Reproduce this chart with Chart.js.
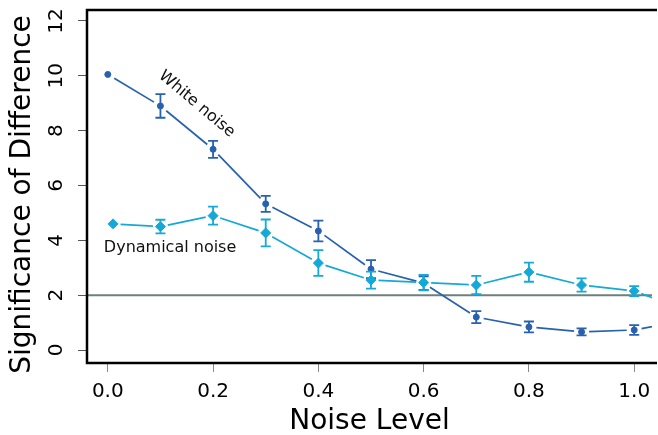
<!DOCTYPE html>
<html>
<head>
<meta charset="utf-8">
<script src="https://cdn.jsdelivr.net/npm/chart.js@4/dist/chart.umd.min.js"></script>
<style>
  html, body { margin: 0; padding: 0; background: #fff; }
  #wrap { width: 658px; height: 435px; position: relative; }
</style>
</head>
<body>
<div id="wrap"><canvas id="noiseChart"></canvas></div>
<script>
// values
const noiseLevels = [0, 0.1, 0.2, 0.3, 0.4, 0.5, 0.6, 0.7, 0.8, 0.9, 1.0, 1.1];
const dynamicalLevels = [0.01, 0.1, 0.2, 0.3, 0.4, 0.5, 0.6, 0.7, 0.8, 0.9, 1.0, 1.1];
const whiteNoise = [10.05, 8.9, 7.32, 5.33, 4.34, 2.95, 2.44, 1.2, 0.84, 0.66, 0.73, 1.1];
const whiteNoiseErr = [0, 0.43, 0.31, 0.29, 0.38, 0.33, 0.25, 0.22, 0.2, 0.13, 0.18, 0.2];
const dynamicalNoise = [4.6, 4.5, 4.9, 4.27, 3.17, 2.55, 2.46, 2.37, 2.84, 2.37, 2.15, 1.45];
const dynamicalNoiseErr = [0, 0.25, 0.33, 0.49, 0.47, 0.31, 0.28, 0.33, 0.35, 0.24, 0.18, 0.2];
const xTicks = [0, 0.2, 0.4, 0.6, 0.8, 1.0];
const yTicks = [0, 2, 4, 6, 8, 10, 12];
const thresholdLevel = 2;

const darkBlue = '#2861ad';
const cyan = '#14a9d6';
const fontFamily = "'DejaVu Sans', sans-serif";
const yTitle = 'Significance of Difference';

// text labels placed in data coordinates
const seriesLabels = [
    { text: 'White noise', x: 0.169, y: 8.97, angle: 40, align: 'center' },
    { text: 'Dynamical noise', x: -0.0075, y: 3.72, angle: 0, align: 'left' }
];

function toPoints(xs, ys) {
    return xs.map((x, i) => ({ x: x, y: ys[i] }));
}

// R style "b" lines: segments stop short of each marker
const gapLinePlugin = {
    id: 'gapLines',
    beforeDatasetDraw(chart, args) {
        const ds = chart.data.datasets[args.index];
        const pts = args.meta.data;
        const gap = 7.5;
        const area = chart.chartArea;
        const ctx = chart.ctx;
        ctx.save();
        ctx.beginPath();
        ctx.rect(area.left, area.top, area.right - area.left, area.bottom - area.top);
        ctx.clip();
        ctx.strokeStyle = ds.borderColor;
        ctx.lineWidth = 1.7;
        ctx.beginPath();
        for (let i = 0; i < pts.length - 1; i++) {
            const a = pts[i], b = pts[i + 1];
            const dx = b.x - a.x, dy = b.y - a.y;
            const len = Math.sqrt(dx * dx + dy * dy);
            if (len <= gap * 2) continue;
            const ux = dx / len, uy = dy / len;
            ctx.moveTo(a.x + ux * gap, a.y + uy * gap);
            ctx.lineTo(b.x - ux * gap, b.y - uy * gap);
        }
        ctx.stroke();
        ctx.restore();
    },
    afterDatasetDraw(chart, args) {
        const ds = chart.data.datasets[args.index];
        if (!ds.errors) return;
        const yScale = chart.scales.y;
        const area = chart.chartArea;
        const ctx = chart.ctx;
        ctx.save();
        ctx.beginPath();
        ctx.rect(area.left, area.top, area.right - area.left, area.bottom - area.top);
        ctx.clip();
        ctx.strokeStyle = ds.borderColor;
        ctx.lineWidth = 1.8;
        ctx.beginPath();
        args.meta.data.forEach((pt, i) => {
            const e = ds.errors[i];
            if (!e) return;
            const v = ds.data[i].y;
            const top = yScale.getPixelForValue(v + e);
            const bot = yScale.getPixelForValue(v - e);
            ctx.moveTo(pt.x, top); ctx.lineTo(pt.x, bot);
            ctx.moveTo(pt.x - 5, top); ctx.lineTo(pt.x + 5, top);
            ctx.moveTo(pt.x - 5, bot); ctx.lineTo(pt.x + 5, bot);
        });
        ctx.stroke();
        ctx.restore();
    }
};

// threshold line, frame, y title and in-plot labels
const decorPlugin = {
    id: 'decor',
    beforeDatasetsDraw(chart) {
        const ctx = chart.ctx;
        const area = chart.chartArea;
        const y = chart.scales.y.getPixelForValue(thresholdLevel);
        ctx.save();
        ctx.strokeStyle = '#6f7f7c';
        ctx.lineWidth = 2;
        ctx.beginPath();
        ctx.moveTo(area.left, y);
        ctx.lineTo(area.right, y);
        ctx.stroke();
        ctx.restore();
    },
    afterDatasetsDraw(chart) {
        const ctx = chart.ctx;
        const area = chart.chartArea;
        const xs = chart.scales.x, ys = chart.scales.y;
        ctx.save();
        ctx.fillStyle = '#111';
        ctx.font = '16px ' + fontFamily;
        seriesLabels.forEach(l => {
            ctx.save();
            ctx.translate(xs.getPixelForValue(l.x), ys.getPixelForValue(l.y));
            ctx.rotate(l.angle * Math.PI / 180);
            ctx.textAlign = l.align;
            ctx.textBaseline = 'middle';
            ctx.fillText(l.text, 0, 0);
            ctx.restore();
        });

        // y axis title, a little below the middle of the plot like the original
        ctx.save();
        ctx.fillStyle = '#000';
        ctx.font = '28px ' + fontFamily;
        ctx.translate(23, (area.top + area.bottom) / 2 + 8);
        ctx.rotate(-Math.PI / 2);
        ctx.textAlign = 'center';
        ctx.textBaseline = 'middle';
        ctx.fillText(yTitle, 0, 0);
        ctx.restore();

        ctx.strokeStyle = '#000';
        ctx.lineWidth = 2.5;
        ctx.beginPath();
        ctx.moveTo(area.right + 5, area.top);
        ctx.lineTo(area.left, area.top);
        ctx.lineTo(area.left, area.bottom);
        ctx.lineTo(area.right + 5, area.bottom);
        ctx.stroke();
        ctx.restore();
    }
};

new Chart(document.getElementById('noiseChart'), {
    type: 'line',
    data: {
        datasets: [
            {
                label: 'White noise',
                data: toPoints(noiseLevels, whiteNoise),
                errors: whiteNoiseErr,
                borderColor: darkBlue,
                backgroundColor: darkBlue,
                showLine: false,
                pointStyle: 'circle',
                pointRadius: 3,
                pointBorderWidth: 1,
                order: 2
            },
            {
                label: 'Dynamical noise',
                data: toPoints(dynamicalLevels, dynamicalNoise),
                errors: dynamicalNoiseErr,
                borderColor: cyan,
                backgroundColor: cyan,
                showLine: false,
                pointStyle: 'rectRot',
                pointRadius: 5,
                pointBorderWidth: 1,
                order: 1
            }
        ]
    },
    options: {
        responsive: true,
        maintainAspectRatio: false,
        animation: false,
        events: [],
        layout: { padding: { top: 10, left: 0, right: 0, bottom: 0 } },
        plugins: {
            legend: { display: false },
            tooltip: { enabled: false }
        },
        scales: {
            x: {
                type: 'linear',
                min: -0.0395,
                max: 1.0338,
                afterBuildTicks: s => { s.ticks = xTicks.map(v => ({ value: v })); },
                afterFit: s => { s.height = 72; s.paddingLeft = 0; s.paddingRight = 0; },
                border: { display: false },
                grid: { drawOnChartArea: false, drawTicks: true, tickLength: 9, color: '#888', lineWidth: 1 },
                ticks: {
                    autoSkip: false,
                    maxRotation: 0,
                    padding: 8,
                    color: '#000',
                    font: { family: fontFamily, size: 20 },
                    callback: v => v.toFixed(1)
                },
                title: {
                    display: true,
                    text: 'Noise Level',
                    color: '#000',
                    font: { family: fontFamily, size: 28, lineHeight: 1 },
                    padding: { top: 0, bottom: -1 }
                }
            },
            y: {
                type: 'linear',
                min: -0.474,
                max: 12.4,
                afterBuildTicks: s => { s.ticks = yTicks.map(v => ({ value: v })); },
                afterFit: s => { s.width = 87; s.paddingTop = 0; s.paddingBottom = 0; },
                border: { display: false },
                grid: { drawOnChartArea: false, drawTicks: true, tickLength: 9, color: '#555', lineWidth: 1 },
                ticks: {
                    autoSkip: false,
                    minRotation: 90,
                    maxRotation: 90,
                    crossAlign: 'center',
                    padding: 8,
                    color: '#000',
                    font: { family: fontFamily, size: 20 },
                    callback: v => String(v)
                },
                title: { display: false }
            }
        }
    },
    plugins: [gapLinePlugin, decorPlugin]
});
</script>
</body>
</html>
